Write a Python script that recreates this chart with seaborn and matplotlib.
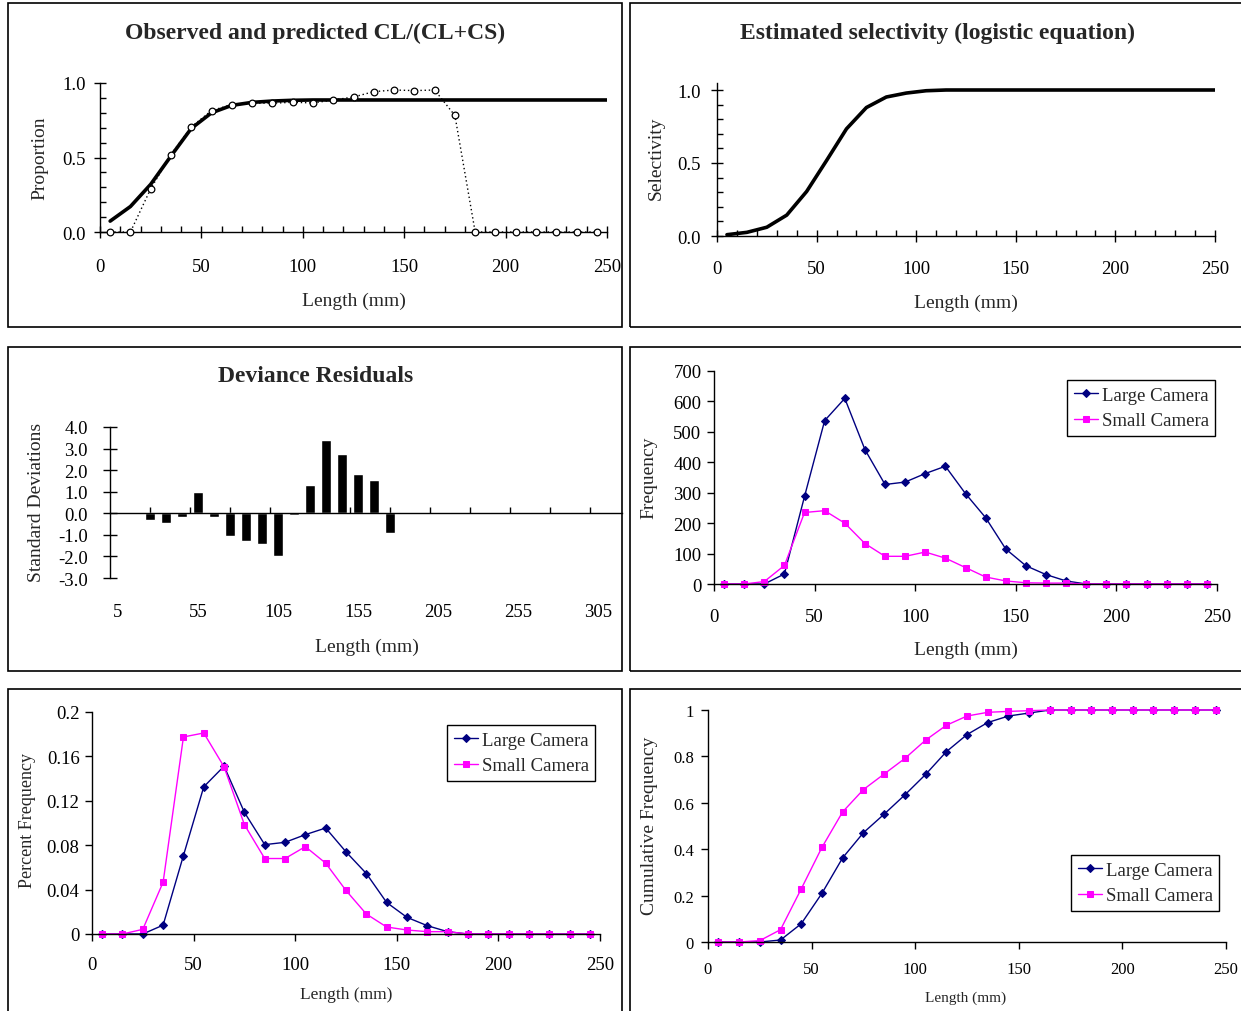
import matplotlib
matplotlib.use("Agg")
import matplotlib.pyplot as plt
from matplotlib.patches import Rectangle
from matplotlib.ticker import MultipleLocator, FixedLocator
import seaborn as sns

# ---------------- data ----------------
lengths = [5, 15, 25, 35, 45, 55, 65, 75, 85, 95, 105, 115, 125, 135, 145,
           155, 165, 175, 185, 195, 205, 215, 225, 235, 245]
lengths_ext = lengths + [255]

observed = [0.0, 0.0, 0.29, 0.52, 0.705, 0.815, 0.855, 0.866, 0.864, 0.871,
            0.866, 0.886, 0.906, 0.942, 0.953, 0.949, 0.953, 0.782, 0.0, 0.0,
            0.0, 0.0, 0.0, 0.0, 0.0]
predicted = [0.073, 0.171, 0.32, 0.51, 0.695, 0.80, 0.85, 0.87, 0.879, 0.884,
             0.886, 0.886, 0.886, 0.886, 0.886, 0.886, 0.886, 0.886, 0.886,
             0.886, 0.886, 0.886, 0.886, 0.886, 0.886, 0.886]
selectivity = [0.009, 0.025, 0.06, 0.143, 0.305, 0.517, 0.734, 0.88, 0.952,
               0.979, 0.995, 1.0, 1.0, 1.0, 1.0, 1.0, 1.0, 1.0, 1.0, 1.0, 1.0,
               1.0, 1.0, 1.0, 1.0, 1.0]

resid_lengths = [25, 35, 45, 55, 65, 75, 85, 95, 105, 115, 125, 135, 145, 155,
                 165, 175]
residuals = [-0.29, -0.44, -0.17, 0.99, -0.17, -1.05, -1.28, -1.43, -1.99,
             -0.08, 1.32, 3.41, 2.77, 1.83, 1.52, -0.93]
resid_ticklabels = [5, 55, 105, 155, 205, 255, 305]

freq_large = [0, 0, 0, 33, 288, 537, 610, 442, 327, 335, 363, 387, 297, 218,
              115, 60, 31, 10, 0, 0, 0, 0, 0, 0, 0]
freq_small = [0, 0, 8, 61, 235, 241, 200, 133, 91, 91, 105, 85, 54, 23, 10, 4,
              3, 3, 0, 0, 0, 0, 0, 0, 0]

pct_large = [0, 0, 0, 0.008, 0.0707, 0.1326, 0.1512, 0.1096, 0.0805, 0.0826,
             0.0895, 0.0955, 0.074, 0.0545, 0.0284, 0.015, 0.0075, 0.0021, 0,
             0, 0, 0, 0, 0, 0]
pct_small = [0, 0, 0.0042, 0.0467, 0.1775, 0.1811, 0.1506, 0.0985, 0.068,
             0.068, 0.0787, 0.0638, 0.0392, 0.018, 0.0063, 0.0036, 0.0021,
             0.0021, 0, 0, 0, 0, 0, 0, 0]

cum_large = [0, 0, 0, 0.0086, 0.0787, 0.21, 0.363, 0.471, 0.551, 0.634, 0.722,
             0.82, 0.894, 0.946, 0.974, 0.987, 1.0, 1.0, 1.0, 1.0, 1.0, 1.0,
             1.0, 1.0, 1.0]
cum_small = [0, 0, 0.006, 0.053, 0.229, 0.408, 0.561, 0.657, 0.724, 0.791,
             0.87, 0.934, 0.974, 0.99, 0.994, 0.997, 1.0, 1.0, 1.0, 1.0, 1.0,
             1.0, 1.0, 1.0, 1.0]

# ---------------- style ----------------
sns.set_theme(style="white")
plt.rcParams["font.family"] = ["Liberation Serif", "DejaVu Serif"]
plt.rcParams["axes.unicode_minus"] = False
plt.rcParams["axes.edgecolor"] = "black"
plt.rcParams["axes.linewidth"] = 1.0
plt.rcParams["xtick.color"] = "black"
plt.rcParams["ytick.color"] = "black"
plt.rcParams["xtick.bottom"] = True
plt.rcParams["ytick.left"] = True

W, H = 1241, 1012
fig = plt.figure(figsize=(W / 100, H / 100), dpi=100)

NAVY = "#000080"
MAGENTA = "#FF00FF"
TICK_FS = 13.5
LAB_FS = 14
TITLE_FS = 17


def axrect(x0, x1, ytop, ybot):
    return [x0 / W, 1 - ybot / H, (x1 - x0) / W, (ybot - ytop) / H]


def fpos(px, py):
    return (px / W, 1 - py / H)


def box(x0, y0, x1, y1):
    fig.add_artist(Rectangle((x0 / W, 1 - y1 / H), (x1 - x0) / W, (y1 - y0) / H,
                             transform=fig.transFigure, fill=False,
                             ec="black", lw=1.2))


def set_labels(ax, xl, xpos, yl, ypos, fs=LAB_FS, xfs=None):
    ax.set_xlabel(xl, fontsize=xfs if xfs else fs)
    ax.xaxis.set_label_coords(*fpos(*xpos), transform=fig.transFigure)
    ax.xaxis.label.set_va("center")
    ax.set_ylabel(yl, fontsize=fs)
    ax.yaxis.set_label_coords(*fpos(*ypos), transform=fig.transFigure)
    ax.yaxis.label.set_va("center")


def clean(ax):
    for s in ["top", "right"]:
        ax.spines[s].set_visible(False)
    ax.grid(False)
    ax.tick_params(which="both", bottom=True, left=True, top=False, right=False)


# panel boxes
box(8, 4, 622, 328)
box(630, 4, 1246, 328)
box(8, 348, 622, 672)
box(630, 348, 1246, 672)
box(8, 690, 622, 1018)
box(630, 690, 1246, 1018)

# ---------------- panel 1 ----------------
ax1 = fig.add_axes(axrect(100, 607, 84, 233))
clean(ax1)
sns.lineplot(x=lengths_ext, y=predicted, ax=ax1, color="black", lw=2.6)
sns.lineplot(x=lengths, y=observed, ax=ax1, color="black", lw=1.0,
             linestyle=(0, (1, 2)), marker="o", markersize=4.8,
             markerfacecolor="white", markeredgecolor="black",
             markeredgewidth=0.9, clip_on=False, zorder=5)
ax1.set_xlim(0, 250)
ax1.set_ylim(0, 1.0)
ax1.xaxis.set_major_locator(MultipleLocator(50))
ax1.xaxis.set_minor_locator(MultipleLocator(10))
ax1.yaxis.set_major_locator(MultipleLocator(0.5))
ax1.yaxis.set_minor_locator(MultipleLocator(0.1))
ax1.yaxis.set_major_formatter(plt.FormatStrFormatter("%.1f"))
ax1.tick_params(which="major", direction="inout", length=9, width=1,
                labelsize=TICK_FS)
ax1.tick_params(which="minor", direction="in", length=4, width=1)
ax1.tick_params(axis="x", which="major", pad=14)
ax1.tick_params(axis="y", which="major", pad=6)
set_labels(ax1, "Length (mm)", (354, 301), "Proportion", (40, 158))
fig.text(*fpos(315, 33), "Observed and predicted CL/(CL+CS)", ha="center",
         va="center", fontsize=TITLE_FS, fontweight="bold")

# ---------------- panel 2 ----------------
ax2 = fig.add_axes(axrect(717, 1215, 83.7, 237))
clean(ax2)
sns.lineplot(x=lengths_ext, y=selectivity, ax=ax2, color="black", lw=2.6)
ax2.set_xlim(0, 250)
ax2.set_ylim(0, 1.05)
ax2.xaxis.set_major_locator(MultipleLocator(50))
ax2.xaxis.set_minor_locator(MultipleLocator(10))
ax2.yaxis.set_major_locator(FixedLocator([0, 0.5, 1.0]))
ax2.yaxis.set_minor_locator(FixedLocator([0.1, 0.2, 0.3, 0.4, 0.6, 0.7, 0.8, 0.9]))
ax2.yaxis.set_major_formatter(plt.FormatStrFormatter("%.1f"))
ax2.tick_params(which="major", direction="inout", length=9, width=1,
                labelsize=TICK_FS)
ax2.tick_params(which="minor", direction="in", length=4, width=1)
ax2.tick_params(axis="x", which="major", pad=13)
ax2.tick_params(axis="y", which="major", pad=7)
set_labels(ax2, "Length (mm)", (966, 303), "Selectivity", (656, 158))
fig.text(*fpos(937, 33), "Estimated selectivity (logistic equation)",
         ha="center", va="center", fontsize=TITLE_FS, fontweight="bold")

# ---------------- panel 3 ----------------
ax3 = fig.add_axes(axrect(110, 622, 428, 579))
clean(ax3)
sns.barplot(x=resid_lengths, y=residuals, ax=ax3, native_scale=True,
            width=0.6, color="black", saturation=1, errorbar=None)
ax3.set_xlim(0, 320)
ax3.set_ylim(-3, 4)
ax3.spines["bottom"].set_position(("data", 0))
ax3.xaxis.set_major_locator(FixedLocator([25 * i for i in range(1, 13)]))
ax3.set_xticklabels([])
ax3.tick_params(axis="x", direction="in", length=4, width=1)
ax3.yaxis.set_major_locator(MultipleLocator(1))
ax3.yaxis.set_major_formatter(plt.FormatStrFormatter("%.1f"))
ax3.tick_params(axis="y", direction="inout", length=10, width=1,
                labelsize=TICK_FS, pad=11)
sec = ax3.secondary_xaxis("bottom")
sec.spines["bottom"].set_visible(False)
sec.set_xticks(resid_ticklabels)
sec.set_xticklabels([str(v) for v in resid_ticklabels])
sec.tick_params(length=0, labelsize=TICK_FS, pad=18)
set_labels(ax3, "Length (mm)", (367, 647), "Standard Deviations", (37, 502))
fig.text(*fpos(316, 377), "Deviance Residuals", ha="center", va="center",
         fontsize=TITLE_FS, fontweight="bold")

# ---------------- helper for camera panels ----------------
def camera_panel(ax, yl, ys, yr):
    clean(ax)
    sns.lineplot(x=lengths, y=yl, ax=ax, color=NAVY, lw=1.0, marker="D",
                 markersize=4, markeredgecolor=NAVY, markerfacecolor=NAVY,
                 label="Large Camera", clip_on=False)
    sns.lineplot(x=lengths, y=ys, ax=ax, color=MAGENTA, lw=1.0, marker="s",
                 markersize=4.5, markeredgecolor=MAGENTA,
                 markerfacecolor=MAGENTA, label="Small Camera", clip_on=False)
    ax.set_xlim(0, 250)
    ax.set_ylim(*yr)
    ax.xaxis.set_major_locator(MultipleLocator(50))


def camera_legend(ax, x0, y0, fs=13.5):
    leg = ax.legend(loc="upper left", bbox_to_anchor=fpos(x0, y0),
                    bbox_transform=fig.transFigure, frameon=True,
                    fancybox=False, shadow=False, fontsize=fs,
                    borderaxespad=0, borderpad=0.35, labelspacing=0.45,
                    handlelength=1.3, handletextpad=0.2)
    leg.get_frame().set_edgecolor("black")
    leg.get_frame().set_linewidth(1.0)
    leg.get_frame().set_alpha(None)
    return leg

# ---------------- panel 4 ----------------
ax4 = fig.add_axes(axrect(714, 1217, 372, 585))
camera_panel(ax4, freq_large, freq_small, (0, 700))
ax4.yaxis.set_major_locator(MultipleLocator(100))
ax4.tick_params(direction="out", length=5, width=1, labelsize=TICK_FS)
ax4.tick_params(axis="x", pad=12)
ax4.tick_params(axis="y", pad=4)
set_labels(ax4, "Length (mm)", (966, 650), "Frequency", (649, 478))
camera_legend(ax4, 1067, 381)

# ---------------- panel 5 ----------------
ax5 = fig.add_axes(axrect(92, 600, 713, 935))
camera_panel(ax5, pct_large, pct_small, (0, 0.2))
ax5.yaxis.set_major_locator(FixedLocator([0, 0.04, 0.08, 0.12, 0.16, 0.2]))
ax5.yaxis.set_major_formatter(plt.FuncFormatter(lambda v, p: ("%.2f" % v).rstrip("0").rstrip(".") if v else "0"))
ax5.tick_params(direction="out", length=5, width=1, labelsize=TICK_FS)
ax5.tick_params(axis="x", pad=11)
ax5.tick_params(axis="y", pad=4)
set_labels(ax5, "Length (mm)", (346, 995), "Percent Frequency", (28, 821),
           fs=13, xfs=12.5)
camera_legend(ax5, 447, 726)

# ---------------- panel 6 ----------------
ax6 = fig.add_axes(axrect(708, 1226, 711, 943))
camera_panel(ax6, cum_large, cum_small, (0, 1))
ax6.yaxis.set_major_locator(MultipleLocator(0.2))
ax6.yaxis.set_major_formatter(plt.FuncFormatter(lambda v, p: ("%.1f" % v).rstrip("0").rstrip(".") if v else "0"))
ax6.tick_params(direction="out", length=5, width=1, labelsize=12)
ax6.tick_params(axis="x", pad=9)
ax6.tick_params(axis="y", pad=5)
set_labels(ax6, "Length (mm)", (966, 998), "Cumulative Frequency", (650, 826),
           fs=14, xfs=11)
camera_legend(ax6, 1071, 856)

fig.savefig("out.png", dpi=100)
